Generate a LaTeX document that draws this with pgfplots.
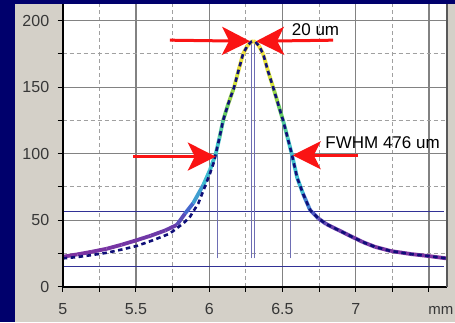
\documentclass[border=0pt]{standalone}
\usepackage{pgfplots}
\pgfplotsset{compat=1.18}
\usepackage{fontspec}
\setmainfont{Liberation Sans}
\usetikzlibrary{arrows.meta}
\definecolor{navybg}{RGB}{0,0,108}
\definecolor{panel}{RGB}{212,208,200}
\definecolor{tl}{RGB}{55,55,55}
\definecolor{majgrid}{RGB}{130,130,130}
\definecolor{mingrid}{RGB}{160,160,160}
\definecolor{hline}{RGB}{50,50,150}
\definecolor{vline}{RGB}{110,110,180}
\definecolor{dashnavy}{RGB}{15,15,120}
\definecolor{arrred}{RGB}{250,20,20}

\pgfplotstableread{
x y
5.00 22.5
5.10 24.3
5.20 26.3
5.30 28.5
5.40 31.5
5.50 34.8
5.60 38.3
5.70 42.3
5.78 46.5
5.835 55
5.89 62.7
5.96 76.5
6.005 87.7
6.045 100
6.07 112
6.095 125
6.13 137.5
6.17 150
6.20 162.5
6.231 175
6.26 181
6.285 184
6.30 184.5
6.315 184
6.34 181
6.368 175
6.40 162.5
6.436 150
6.47 137.5
6.504 125
6.535 112
6.563 100
6.60 82
6.64 70
6.688 57.7
6.745 51.3
6.80 47
6.859 43.8
6.92 40.5
6.973 37.6
7.05 33.5
7.13 30
7.24 26.8
7.38 24.5
7.50 23
7.62 21.3
}\measured

\pgfplotstableread{
x y
5.00 21.3
5.10 22.3
5.20 23.8
5.30 25.5
5.39 27.6
5.505 30.6
5.618 35
5.732 40
5.823 47.6
5.869 52.6
5.926 62.7
5.97 75
6.005 85
6.03 93
6.045 100
6.07 112
6.095 125
6.13 137.5
6.17 150
6.20 162.5
6.231 175
6.26 181
6.285 184
6.30 184.5
6.315 184
6.34 181
6.368 175
6.40 162.5
6.436 150
6.47 137.5
6.504 125
6.535 112
6.563 100
6.60 82
6.64 70
6.688 57.7
6.745 51.3
6.80 47
6.859 43.8
6.92 40.5
6.973 37.6
7.05 33.5
7.13 30
7.24 26.8
7.38 24.5
7.50 23
7.62 21.3
}\fitted

\begin{document}
\begin{tikzpicture}
\useasboundingbox (0pt,0pt) rectangle (455pt,322pt);
\fill[navybg] (0pt,0pt) rectangle (455pt,322pt);
\fill[panel] (15pt,0pt) rectangle (455pt,318pt);
\begin{axis}[
  at={(62.7pt,35.3pt)}, anchor=south west,
  scale only axis, width=384.3pt, height=282.7pt,
  xmin=5, xmax=7.623, ymin=0, ymax=212.5,
  axis background/.style={fill=white},
  axis line style={draw=none},
  clip mode=individual,
  xtick={5,5.5,6,6.5,7,7.5}, xticklabels={5,5.5,6,6.5,7,{}},
  ytick={0,50,100,150,200},
  minor xtick={5.25,5.75,6.25,6.75,7.25},
  minor ytick={25,75,125,175},
  grid=both,
  major grid style={majgrid, line width=1.1pt},
  minor grid style={mingrid, line width=1.1pt, dash pattern=on 4pt off 3pt},
  tick pos=left, tick align=outside,
  major tick length=5pt, minor tick length=5pt,
  tick style={black, line width=1pt},
  minor tick style={black, line width=1pt},
  /pgf/number format/assume math mode=true,
  ticklabel style={font=\fontsize{16}{16}\selectfont, text=tl},
  xticklabel style={yshift=-8pt},
  yticklabel style={xshift=-5pt},
  colormap={prof}{rgb255(0)=(128,48,160) rgb255(25)=(105,60,170) rgb255(38)=(70,100,205) rgb255(55)=(60,185,210) rgb255(90)=(70,200,200) rgb255(115)=(110,205,80) rgb255(140)=(230,230,60) rgb255(165)=(240,220,60)},
  point meta min=20, point meta max=185,
]
% horizontal reference lines
\addplot[hline, line width=1pt] coordinates {(5,56.3) (7.6,56.3)};
\addplot[hline, line width=1pt] coordinates {(5,15) (7.6,15)};
% vertical lines
\addplot[vline, line width=0.9pt] coordinates {(6.058,21.3) (6.058,100)};
\addplot[vline, line width=0.9pt] coordinates {(6.552,21.3) (6.552,100)};
\addplot[vline, line width=0.9pt] coordinates {(6.285,21.3) (6.285,184)};
\addplot[vline, line width=0.9pt] coordinates {(6.308,21.3) (6.308,184)};
% measured profile (coloured)
\addplot[mesh, point meta=\thisrow{y}, line width=3.8pt] table[x=x,y=y] {\measured};
% fitted profile (dashed)
\addplot[dashnavy, line width=2.6pt, dash pattern=on 4.5pt off 3.5pt] table[x=x,y=y] {\fitted};
% arrows
\draw[arrred, line width=3pt, -{Stealth[length=28pt, width=28pt, inset=7pt]}] (axis cs:5.732,185.3) -- (axis cs:6.279,184.5);
\draw[arrred, line width=3pt, -{Stealth[length=28pt, width=28pt, inset=7pt]}] (axis cs:6.845,185.3) -- (axis cs:6.320,184.5);
\draw[arrred, line width=3pt, -{Stealth[length=28pt, width=28pt, inset=7pt]}] (axis cs:5.48,97.8) -- (axis cs:6.045,97.8);
\draw[arrred, line width=3pt, -{Stealth[length=28pt, width=28pt, inset=7pt]}] (axis cs:7.016,98.8) -- (axis cs:6.570,98.8);
\node[anchor=base west, font=\fontsize{17}{17}\selectfont, text=black, inner sep=0pt] at (axis cs:6.563,188.8) {20 um};
\node[anchor=base west, font=\fontsize{17}{17}\selectfont, text=black, inner sep=0pt] at (axis cs:6.792,103.8) {FWHM 476 um};
% axis lines
\draw[black, line width=2pt] (rel axis cs:0,0) -- (rel axis cs:0,1);
\draw[black, line width=2pt] (rel axis cs:0,0) -- (rel axis cs:1,0);
\draw[black!65, line width=1.5pt] (rel axis cs:1,0) -- (rel axis cs:1,1);
\node[anchor=base east, font=\fontsize{15}{15}\selectfont, text=tl, inner sep=0pt] at (axis cs:7.668,-21.2) {mm};
\end{axis}
\end{tikzpicture}
\end{document}
